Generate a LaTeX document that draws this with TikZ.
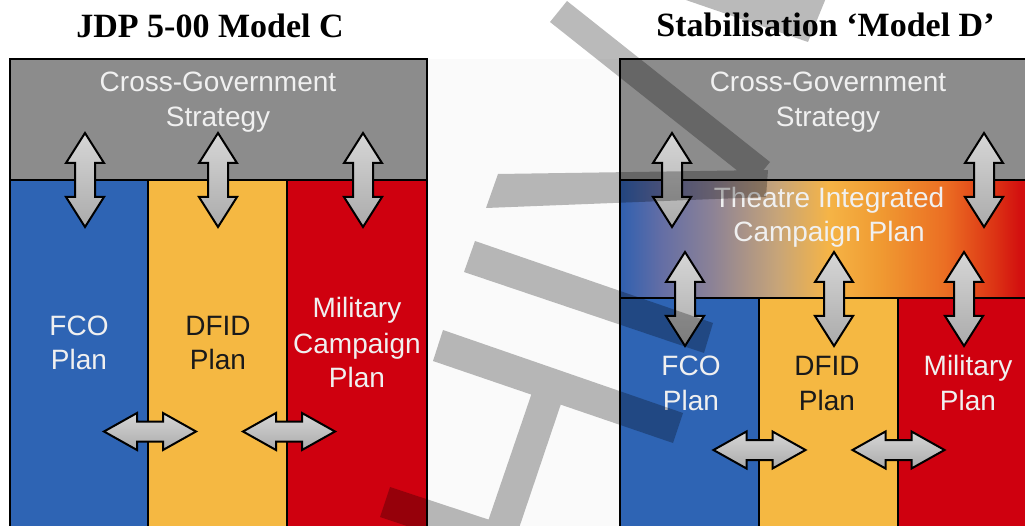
\documentclass[tikz,border=0pt]{standalone}
\usepackage{fontspec}
\setmainfont{Liberation Serif}
\newfontfamily\arialfont{Liberation Sans}
\definecolor{cgrey}{RGB}{140,140,140}
\definecolor{cblue}{RGB}{46,100,180}
\definecolor{cyel}{RGB}{245,184,66}
\definecolor{cred}{RGB}{207,0,15}
\definecolor{cdark}{RGB}{26,26,26}
\definecolor{coffw}{RGB}{250,250,250}
\definecolor{bga}{RGB}{48,96,176}
\definecolor{bgb}{RGB}{100,110,165}
\definecolor{bgc}{RGB}{140,130,150}
\definecolor{bgd}{RGB}{200,165,120}
\definecolor{bge}{RGB}{245,180,70}
\definecolor{bgf}{RGB}{240,155,50}
\definecolor{bgg}{RGB}{235,110,35}
\definecolor{bgh}{RGB}{220,50,20}
\definecolor{bgi}{RGB}{210,15,15}
\pgfdeclarehorizontalshading{tband}{100bp}{color(0bp)=(bga); color(25bp)=(bga); color(30bp)=(bgb); color(36bp)=(bgc); color(44bp)=(bgd); color(50bp)=(bge); color(56bp)=(bgf); color(64bp)=(bgg); color(70bp)=(bgh); color(73bp)=(bgi); color(75bp)=(bgi); color(100bp)=(bgi)}
\tikzset{
  blockbox/.style={draw=black, line width=2pt, rectangle, inner sep=0pt, outer sep=0pt, anchor=north west},
  lbl/.style={font=\arialfont\fontsize{28}{34}\selectfont, text=white!94!black, inner sep=0pt, anchor=base},
  dlbl/.style={lbl, text=cdark},
  ttl/.style={font=\bfseries\fontsize{34}{40}\selectfont, text=black, inner sep=0pt, anchor=base},
  arrowline/.style={draw=black, line width=2pt, line join=miter, top color=black!16, bottom color=black!33},
  vdarrow/.pic={\path[arrowline] (0,-47) -- (19,-17) -- (10,-17) -- (10,17) -- (19,17) -- (0,47) -- (-19,17) -- (-10,17) -- (-10,-17) -- (-19,-17) -- cycle;},
  hdarrow/.pic={\path[arrowline] (-46,0) -- (-13,-18.5) -- (-13,-10) -- (13,-10) -- (13,-18.5) -- (46,0) -- (13,18.5) -- (13,10) -- (-13,10) -- (-13,18.5) -- cycle;},
  wmark/.style={fill=black, fill opacity=0.27, draw=none}
}
\begin{document}
\begin{tikzpicture}[x=1pt,y=-1pt]
\useasboundingbox (0,0) rectangle (1025,526);
\begin{scope}
\clip (0,0) rectangle (1025,526);
\fill[white] (0,0) rectangle (1025,526);
\fill[coffw] (427,59) rectangle (620,526);
% titles
\node[ttl] (tL) at (210,38) {JDP 5-00 Model C};
\node[ttl] (tR) at (825.5,37) {Stabilisation ‘Model D’};
% left diagram
\node[blockbox, fill=cgrey, minimum width=417pt, minimum height=121pt] (Lstrat) at (10,59) {};
\node[blockbox, fill=cblue, minimum width=138pt, minimum height=380pt] (Lfco) at (10,180) {};
\node[blockbox, fill=cyel, minimum width=139pt, minimum height=380pt] (Ldfid) at (148,180) {};
\node[blockbox, fill=cred, minimum width=140pt, minimum height=380pt] (Lmil) at (287,180) {};
\node[lbl] (Ls1) at (218,92) {Cross-Government};
\node[lbl] (Ls2) at (218,127) {Strategy};
\node[lbl] (Lf1) at (79,336) {FCO};
\node[lbl] (Lf2) at (79,370) {Plan};
\node[dlbl] (Ld1) at (218,336) {DFID};
\node[dlbl] (Ld2) at (218,370) {Plan};
\node[lbl] (Lm1) at (357,318) {Military};
\node[lbl] (Lm2) at (357,353) {Campaign};
\node[lbl] (Lm3) at (357,388) {Plan};
\pic (La1) at (85,180) {vdarrow};
\pic (La2) at (218,180) {vdarrow};
\pic (La3) at (363,180) {vdarrow};
\pic (Lh1) at (150,431.5) {hdarrow};
\pic (Lh2) at (289,431.5) {hdarrow};
% right diagram
\node[blockbox, fill=cgrey, minimum width=417pt, minimum height=121pt] (Rstrat) at (620,59) {};
\node[blockbox, shade, shading=tband, minimum width=417pt, minimum height=118pt] (Rband) at (620,180) {};
\node[blockbox, fill=cblue, minimum width=139pt, minimum height=262pt] (Rfco) at (620,298) {};
\node[blockbox, fill=cyel, minimum width=139pt, minimum height=262pt] (Rdfid) at (759,298) {};
\node[blockbox, fill=cred, minimum width=139pt, minimum height=262pt] (Rmil) at (898,298) {};
\node[lbl] (Rs1) at (828,92) {Cross-Government};
\node[lbl] (Rs2) at (828,127) {Strategy};
\node[lbl] (Rt1) at (829,208) {Theatre Integrated};
\node[lbl] (Rt2) at (829,242) {Campaign Plan};
\node[lbl] (Rf1) at (691,376) {FCO};
\node[lbl] (Rf2) at (691,410) {Plan};
\node[dlbl] (Rd1) at (827,376) {DFID};
\node[dlbl] (Rd2) at (827,410) {Plan};
\node[lbl] (Rm1) at (968,376) {Military};
\node[lbl] (Rm2) at (968,410) {Plan};
\pic (Ra1) at (672,180) {vdarrow};
\pic (Ra2) at (984,180) {vdarrow};
\pic (Rb1) at (685,299) {vdarrow};
\pic (Rb2) at (834,299) {vdarrow};
\pic (Rb3) at (964,299) {vdarrow};
\pic (Rh1) at (759.5,450) {hdarrow};
\pic (Rh2) at (898.5,450) {hdarrow};
% watermark strokes
\path[wmark]
  (567,1) -- (770,162) -- (753,183) -- (550,22) -- cycle
  (680,-2) -- (826,-2) -- (808,42) -- cycle
  (498,174) -- (768,170) -- (766,197) -- (486,208) -- cycle
  (475,241) -- (713,323) -- (704,353) -- (464,272) -- cycle
  (443,330) -- (683,413) -- (673,443) -- (433,361) -- cycle
  (538,375) -- (567,386) -- (515,540) -- (485,530) -- cycle
  (390,487) -- (514,528) -- (413,528) -- (380,517) -- cycle;
\end{scope}
\end{tikzpicture}
\end{document}
